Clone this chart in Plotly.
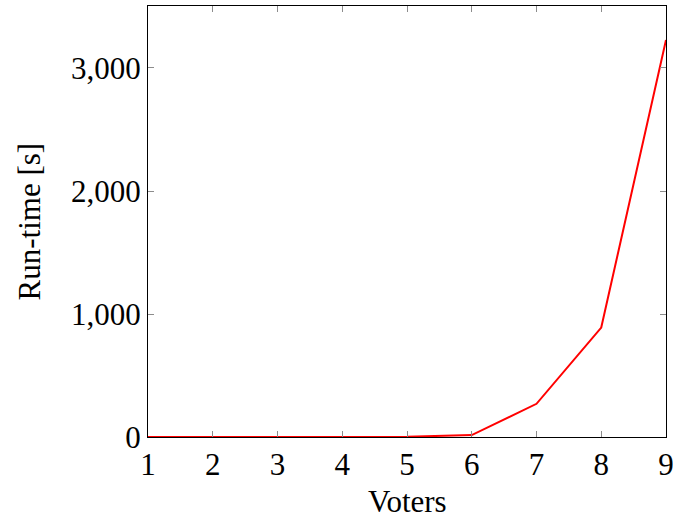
import plotly.graph_objects as go

voters = [1, 2, 3, 4, 5, 6, 7, 8, 9]
runtime = [0, 0, 0, 0, 2, 16, 270, 890, 3228]
x_ticks = [1, 2, 3, 4, 5, 6, 7, 8, 9]
y_ticks = [0, 1000, 2000, 3000]
y_ticktext = ["0", "1,000", "2,000", "3,000"]
x_title = "Voters"
y_title = "Run-time [s]"

font_family = "Liberation Serif, DejaVu Serif, serif"
title_font = dict(family=font_family, size=31, color="black")

fig = go.Figure()
fig.add_trace(go.Scatter(x=voters, y=runtime, mode="lines",
                         line=dict(color="#ff0000", width=2), showlegend=False))

axis_common = dict(showline=True, linecolor="black", linewidth=1, mirror="ticks",
                   ticks="inside", ticklen=6, tickcolor="#8c8c8c", tickwidth=1,
                   showgrid=False, zeroline=False, ticklabeloverflow="allow",
                   automargin=False,
                   tickfont=dict(family=font_family, size=31, color="black"))

fig.update_xaxes(range=[1, 9], tickvals=x_ticks, **axis_common)
fig.update_yaxes(range=[0, 3504], tickvals=y_ticks, ticktext=y_ticktext, **axis_common)

fig.add_annotation(text=x_title, xref="paper", yref="paper", x=0.5, y=-0.15,
                   xanchor="center", yanchor="middle", showarrow=False, font=title_font)
fig.add_annotation(text=y_title, xref="paper", yref="paper", x=-0.228, y=0.5,
                   xanchor="center", yanchor="middle", textangle=-90,
                   showarrow=False, font=title_font)

fig.update_layout(width=673, height=518, plot_bgcolor="white", paper_bgcolor="white",
                  margin=dict(l=148, r=7, t=6, b=81))

fig.write_html("out.html")
